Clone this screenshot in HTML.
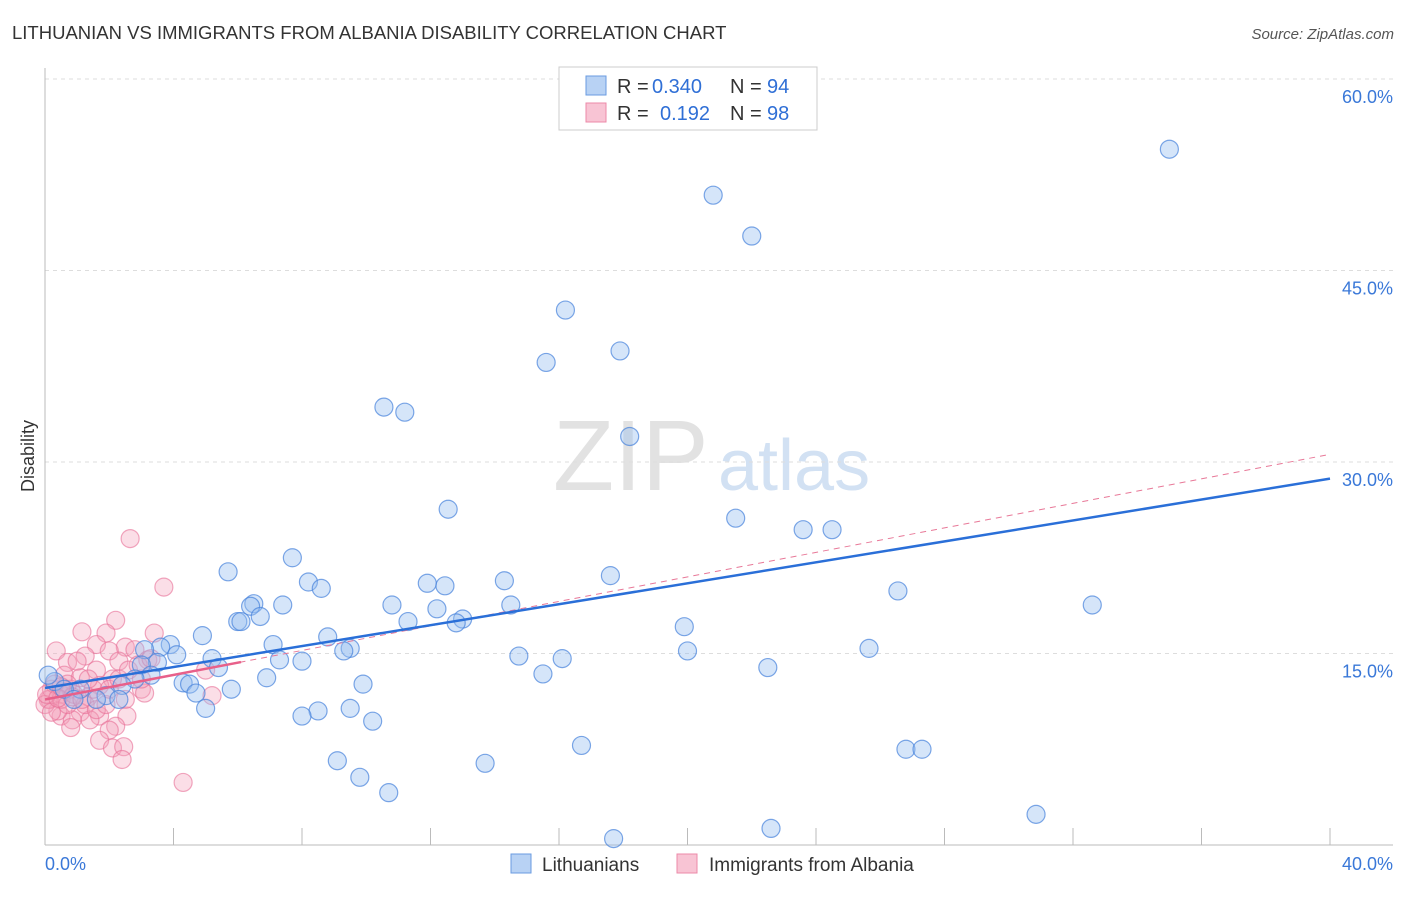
<!DOCTYPE html>
<html><head><meta charset="utf-8"><style>
body{margin:0;background:#fff;font-family:"Liberation Sans",sans-serif}
svg text{font-family:"Liberation Sans",sans-serif}
</style></head><body>
<svg id="chart" width="1406" height="892" xmlns="http://www.w3.org/2000/svg">
<text x="12" y="39" font-size="18.5" fill="#333">LITHUANIAN VS IMMIGRANTS FROM ALBANIA DISABILITY CORRELATION CHART</text>
<text x="1394" y="39" font-size="15" fill="#555" text-anchor="end" font-style="italic">Source: ZipAtlas.com</text>
<text x="553" y="490" font-size="100" fill="#e2e2e2" font-family="Liberation Serif,serif">ZIP</text>
<text x="718" y="490" font-size="72" fill="#d2e1f3">atlas</text>
<text x="34" y="456" font-size="18" fill="#333" text-anchor="middle" transform="rotate(-90 34 456)">Disability</text>
<g id="grid"></g><g id="axes"></g><g id="pts"></g><g id="trend"></g>
<g>
<rect x="559" y="67" width="258" height="63" fill="#fff" stroke="#ccc"/>
<rect x="586" y="76" width="20" height="19" fill="#b8d2f4" stroke="#6a9be0"/>
<rect x="586" y="103" width="20" height="19" fill="#f8c4d4" stroke="#ec8aa8"/>
<text y="93" font-size="20" fill="#333"><tspan x="617">R =</tspan><tspan x="652" fill="#2f6fd6">0.340</tspan><tspan x="730">N =</tspan><tspan x="767" fill="#2f6fd6">94</tspan></text>
<text y="120" font-size="20" fill="#333"><tspan x="617">R =</tspan><tspan x="660" fill="#2f6fd6">0.192</tspan><tspan x="730">N =</tspan><tspan x="767" fill="#2f6fd6">98</tspan></text>
</g>
<g>
<rect x="511" y="854" width="20" height="19" fill="#b8d2f4" stroke="#6a9be0"/>
<text x="542" y="871" font-size="19" fill="#333">Lithuanians</text>
<rect x="677" y="854" width="20" height="19" fill="#f8c4d4" stroke="#ec8aa8"/>
<text x="709" y="871" font-size="19" fill="#333">Immigrants from Albania</text>
</g>
</svg>
<script>
const xTickLabels=["0.0%","40.0%"];
const yTicks=[15,30,45,60];
const yTickLabels=["15.0%","30.0%","45.0%","60.0%"];
const blueX=[35.0,20.8,22.0,16.2,17.9,15.6,10.55,11.2,18.2,12.55,21.5,23.6,24.5,7.7,5.7,17.6,14.3,11.9,12.45,8.2,8.6,26.55,6.5,6.4,7.4,10.8,14.5,32.6,6.7,6.0,6.1,12.2,13.0,11.3,12.8,19.9,4.9,8.8,7.1,3.9,3.6,3.1,9.5,9.3,25.65,20.0,4.1,14.75,16.1,5.2,7.3,8.0,3.5,3.0,5.4,22.5,3.3,15.5,2.8,6.9,4.3,4.5,9.9,2.4,4.7,5.8,1.9,2.3,0.3,0.1,1.1,1.6,5.0,9.5,8.5,8.0,10.2,16.7,26.8,27.3,9.1,13.7,9.8,10.7,30.85,22.6,17.7,0.6,0.9];
const blueY=[54.5,50.9,47.7,41.9,38.7,37.8,34.3,33.9,32.0,26.3,25.6,24.7,24.7,22.5,21.4,21.1,20.7,20.5,20.3,20.6,20.1,19.9,18.9,18.7,18.8,18.8,18.8,18.8,17.9,17.5,17.5,18.5,17.7,17.5,17.4,17.1,16.4,16.3,15.7,15.7,15.5,15.3,15.4,15.2,15.4,15.2,14.9,14.8,14.6,14.6,14.5,14.4,14.3,14.1,13.9,13.9,13.3,13.4,13.0,13.1,12.7,12.6,12.6,12.5,11.9,12.2,11.7,11.4,12.8,13.3,12.2,11.4,10.7,10.7,10.5,10.1,9.7,7.8,7.5,7.5,6.6,6.4,5.3,4.1,2.4,1.3,0.5,12.2,11.4];
const pinkX=[2.65,3.7,2.2,1.15,1.9,3.4,1.6,2.5,2.0,0.35,1.25,2.8,3.2,0.7,2.3,1.6,5.0,0.6,1.1,2.1,1.7,3.0,0.8,0.5,0.15,1.35,2.5,3.1,5.2,2.55,1.1,0.5,1.7,0.85,1.4,2.2,0.8,2.0,1.7,2.1,2.45,2.4,4.3,0.4,0.1,0.2,0.3,0.5,0.7,0.9,1.25,1.5,1.6,1.9,2.0,2.3,2.6,2.9,3.3,3.0,0,0.2,1.0,1.35,0.7,0.05,0.4,0.85,1.15,0.5];
const pinkY=[24.0,20.2,17.6,16.7,16.6,16.6,15.7,15.5,15.2,15.2,14.8,15.3,14.5,14.3,14.4,13.7,13.7,13.3,13.1,13.0,12.5,12.2,12.2,11.8,11.4,11.6,11.4,11.9,11.7,10.1,10.4,10.1,10.1,9.8,9.8,9.3,9.2,9.0,8.2,7.6,7.7,6.7,4.9,10.5,11.4,12.2,12.6,11.4,11.0,11.8,11.0,12.2,10.6,11.0,12.2,13.0,13.7,14.1,14.6,13.0,11.0,10.4,14.4,13.0,12.6,11.8,11.5,11.6,11.4,12.4];
const blueTrend=[12.3,28.7];
const pinkTrend=[11.4,0.48];
const NS="http://www.w3.org/2000/svg";
const X=v=>45+v/40*1285, Y=v=>845-v/15*191.5;
function mk(t,a,p){const e=document.createElementNS(NS,t);for(const k in a)e.setAttribute(k,a[k]);document.getElementById(p).appendChild(e);return e;}
yTicks.forEach((t,i)=>{
 const g=mk('line',{x1:45,x2:1393,y1:Y(t),y2:Y(t),stroke:'#ddd','stroke-dasharray':'4,4'},'grid');
 
 
 const l=mk('text',{x:1393,y:Y(t)+24,'font-size':18,fill:'#3a78d8','text-anchor':'end'},'grid');
 l.textContent=yTickLabels[i];
 
 
});
mk('line',{x1:45,x2:1393,y1:845,y2:845,stroke:'#bbb'},'axes');
mk('line',{x1:45,x2:45,y1:68,y2:845,stroke:'#bbb'},'axes');
for(let i=1;i<=10;i++){const t=mk('line',{x1:X(i*4),x2:X(i*4),y1:828,y2:845,stroke:'#bbb'},'axes');
 
 }
[[0,'start',45],[40,'end',1393]].forEach((d,i)=>{const l=mk('text',{x:d[2],y:870,'font-size':18,fill:'#3a78d8','text-anchor':d[1]},'axes');l.textContent=xTickLabels[i];
 
 });
pinkX.forEach((v,i)=>{const c=mk('circle',{cx:X(v),cy:Y(pinkY[i]),r:9,fill:'rgba(244,160,185,0.35)',stroke:'rgba(232,110,150,0.6)','stroke-width':1.2},'pts');
 
 });
blueX.forEach((v,i)=>{const c=mk('circle',{cx:X(v),cy:Y(blueY[i]),r:9,fill:'rgba(150,190,240,0.4)',stroke:'rgba(70,130,220,0.7)','stroke-width':1.2},'pts');
 
 });
const pd=mk('line',{x1:X(0),y1:Y(pinkTrend[0]),x2:X(40),y2:Y(pinkTrend[0]+pinkTrend[1]*40),stroke:'#e87898','stroke-width':1,'stroke-dasharray':'6,5'},'trend');


const bt=mk('line',{x1:X(0),y1:Y(blueTrend[0]),x2:X(40),y2:Y(blueTrend[1]),stroke:'#2a6fd8','stroke-width':2.5},'trend');


const ps=mk('line',{x1:X(0),y1:Y(pinkTrend[0]),x2:X(6.1),y2:Y(pinkTrend[0]+pinkTrend[1]*6.1),stroke:'#e8608a','stroke-width':2.5},'trend');


</script>
</body></html>
